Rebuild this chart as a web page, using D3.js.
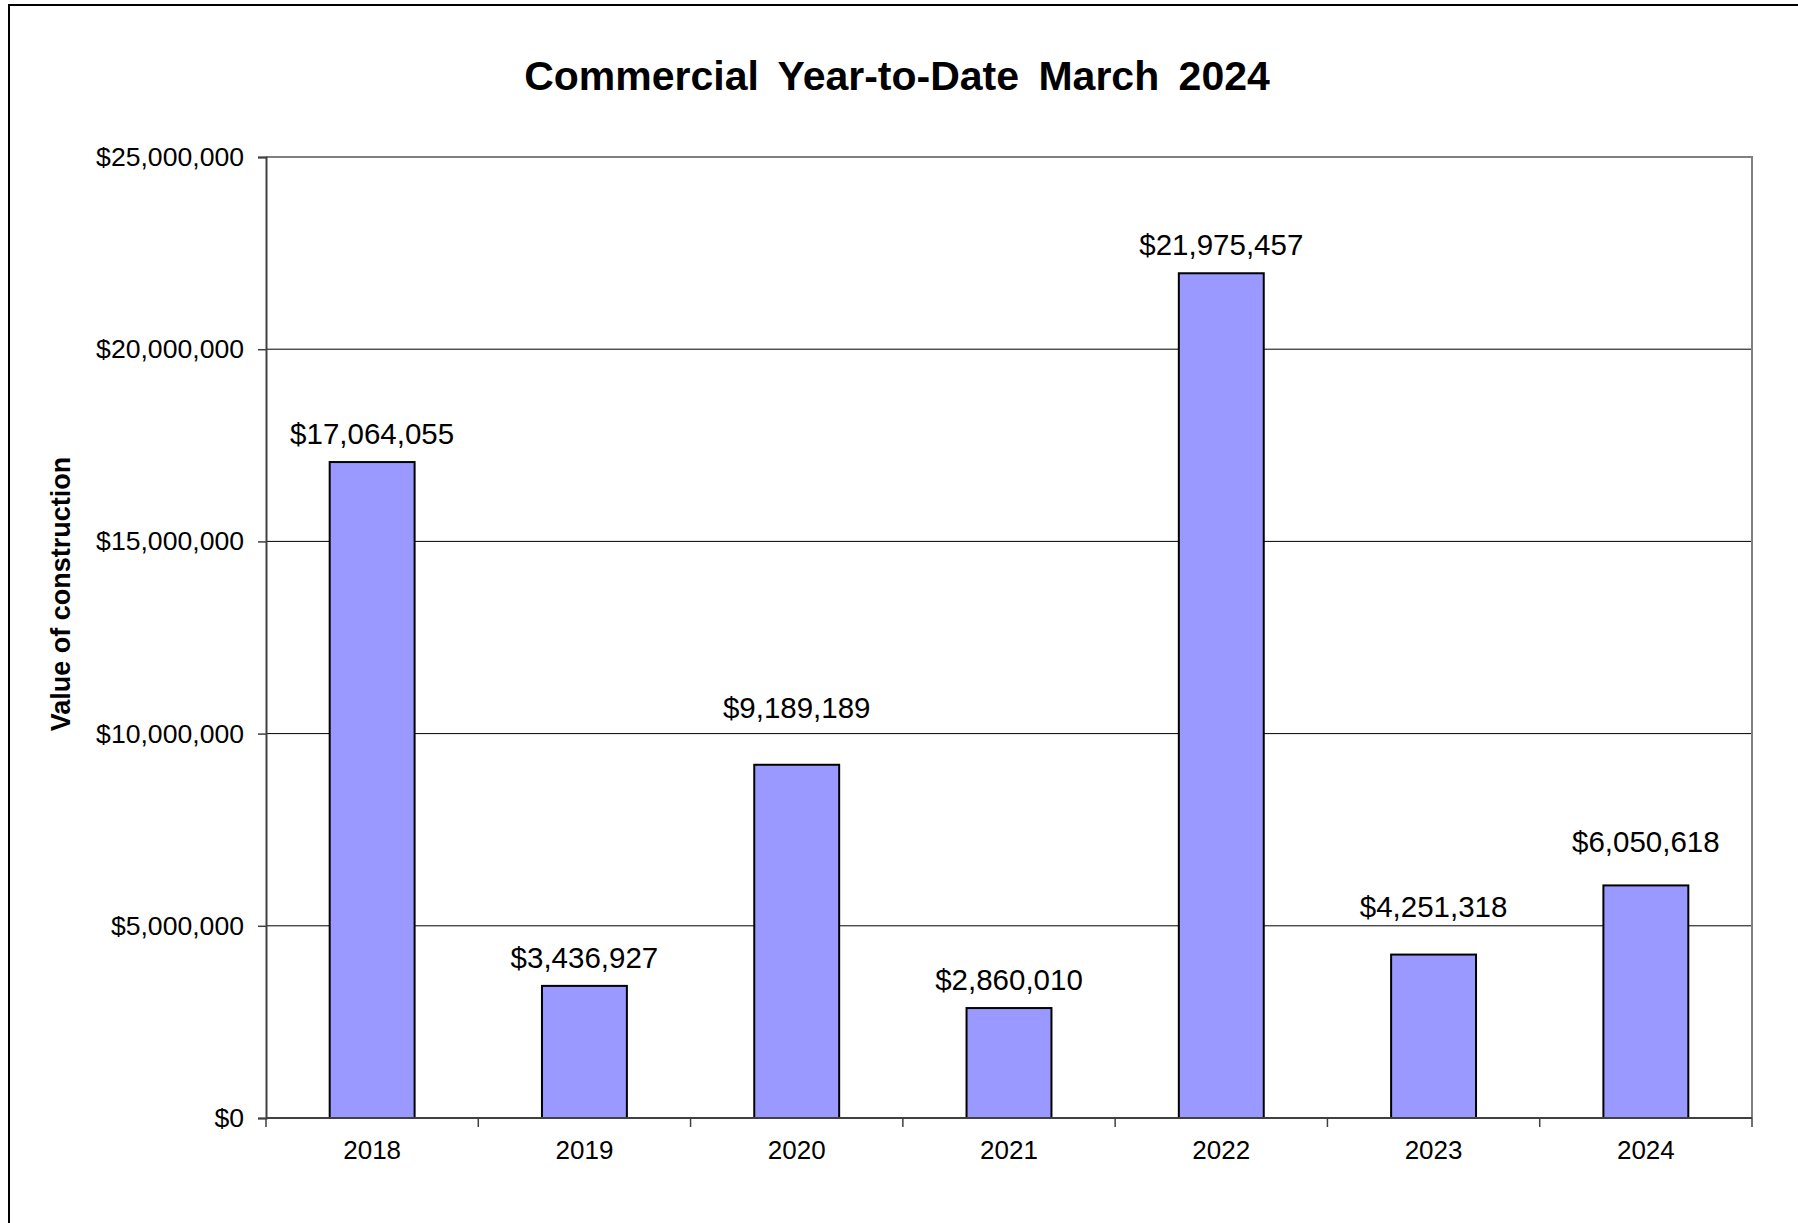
<!DOCTYPE html>
<html>
<head>
<meta charset="utf-8">
<script src="https://cdn.jsdelivr.net/npm/d3@7"></script>
<style>
  body { margin: 0; background: #fff; }
  text { font-family: "Liberation Sans", Arial, sans-serif; }
</style>
</head>
<body>
<div id="chart"></div>
<script>
// chart data
const years = ['2018', '2019', '2020', '2021', '2022', '2023', '2024'];
const values = [17064055, 3436927, 9189189, 2860010, 21975457, 4251318, 6050618];
const yTicks = [0, 5000000, 10000000, 15000000, 20000000, 25000000];

const W = 1798, H = 1223;
const margin = {top: 157, right: 46, bottom: 105, left: 266},
    width = W - margin.left - margin.right,
    height = H - margin.top - margin.bottom;

// extra lift (px) for labels that sit higher above their bar
const labelLift = [0, 0, 29, 0, 0, 20, 15];

const svg = d3.select('#chart')
  .append('svg')
    .attr('width', W)
    .attr('height', H);

// outer frame
svg.append('rect')
    .attr('x', 9).attr('y', 5)
    .attr('width', W).attr('height', H)
    .attr('fill', 'none')
    .attr('stroke', '#000')
    .attr('stroke-width', 2);

// title
svg.append('text')
    .attr('x', 897).attr('y', 90)
    .attr('text-anchor', 'middle')
    .style('font-weight', 'bold')
    .style('font-size', '41px')
    .style('word-spacing', '8px')
    .text('Commercial Year-to-Date March 2024');

const g = svg.append('g')
    .attr('transform', 'translate(' + margin.left + ',' + margin.top + ')');

const x = d3.scaleBand()
    .domain(years)
    .range([0, width])
    .paddingInner(0.6)
    .paddingOuter(0.3);

const y = d3.scaleLinear()
    .domain([0, 25000000])
    .range([height, 0]);

const fmt = d => '$' + d3.format(',')(d);

// gridlines
g.selectAll('.grid')
  .data(yTicks.slice(1, -1))
  .enter().append('line')
    .attr('class', 'grid')
    .attr('x1', 0).attr('x2', width)
    .attr('y1', d => y(d)).attr('y2', d => y(d))
    .attr('stroke', '#000')
    .attr('stroke-width', 1);

// plot border (top and right in grey)
g.append('path')
    .attr('d', 'M0,' + y(25000000) + 'H' + width + 'V' + height)
    .attr('fill', 'none')
    .attr('stroke', '#808080')
    .attr('stroke-width', 2);

// bars
g.selectAll('.bar')
  .data(values)
  .enter().append('rect')
    .attr('class', 'bar')
    .attr('x', (d, i) => x(years[i]))
    .attr('y', d => y(d))
    .attr('width', x.bandwidth())
    .attr('height', d => height - y(d))
    .attr('fill', '#9999FF')
    .attr('stroke', '#000')
    .attr('stroke-width', 2);

// value labels
g.selectAll('.val')
  .data(values)
  .enter().append('text')
    .attr('class', 'val')
    .attr('x', (d, i) => x(years[i]) + x.bandwidth() / 2)
    .attr('y', (d, i) => y(d) - 18 - labelLift[i])
    .attr('text-anchor', 'middle')
    .style('font-size', '29.5px')
    .attr('fill', '#000')
    .text(fmt);

// y axis
const yAxis = g.append('g')
    .call(d3.axisLeft(y).tickValues(yTicks).tickFormat(fmt).tickSize(8).tickPadding(14));
yAxis.select('.domain').attr('stroke', '#404040').attr('stroke-width', 2);
yAxis.selectAll('.tick line').attr('stroke', '#404040').attr('stroke-width', 1.5);
yAxis.selectAll('text')
    .style('font-size', '26.6px')
    .style('font-family', '"Liberation Sans", Arial, sans-serif')
    .attr('fill', '#000');

// x axis: ticks at band boundaries
const xAxis = g.append('g')
    .attr('transform', 'translate(0,' + height + ')');
xAxis.append('line')
    .attr('x1', 0).attr('x2', width)
    .attr('stroke', '#404040').attr('stroke-width', 2);
xAxis.selectAll('.xt')
  .data(d3.range(years.length + 1))
  .enter().append('line')
    .attr('class', 'xt')
    .attr('x1', i => i * x.step()).attr('x2', i => i * x.step())
    .attr('y1', 0).attr('y2', 9)
    .attr('stroke', '#404040').attr('stroke-width', 1.5);
xAxis.selectAll('.xl')
  .data(years)
  .enter().append('text')
    .attr('class', 'xl')
    .attr('x', d => x(d) + x.bandwidth() / 2)
    .attr('y', 41)
    .attr('text-anchor', 'middle')
    .style('font-size', '26px')
    .text(d => d);

// y axis title
svg.append('text')
    .attr('transform', 'translate(70,594) rotate(-90)')
    .attr('text-anchor', 'middle')
    .style('font-weight', 'bold')
    .style('font-size', '27px')
    .text('Value of construction');
</script>
</body>
</html>
